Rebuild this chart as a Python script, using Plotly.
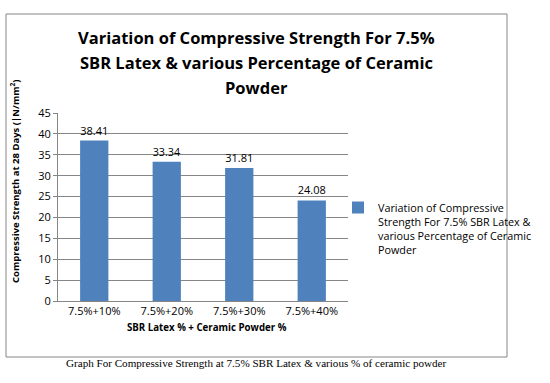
import plotly.graph_objects as go

categories = ["7.5%+10%", "7.5%+20%", "7.5%+30%", "7.5%+40%"]
strength = [38.41, 33.34, 31.81, 24.08]
series_name = "Variation of Compressive<br>Strength For 7.5% SBR Latex &<br>various Percentage of Ceramic<br>Powder"
y_ticks = [0, 5, 10, 15, 20, 25, 30, 35, 40, 45]

W, H = 550, 383
L, R, T, B = 58, 348, 113, 301  # plot area pixel edges

def px(x):
    return (x - L) / (R - L)

def py(y):
    return (B - y) / (B - T)

FONT = "Open Sans"
fig = go.Figure()
fig.add_trace(go.Bar(
    x=categories, y=strength, name=series_name,
    marker=dict(color="#4F81BD", line=dict(width=0)),
    width=0.39,
    text=[f"{v:.2f}" for v in strength], textposition="outside",
    textfont=dict(family=FONT, size=11, color="#000000"),
    cliponaxis=False, showlegend=True,
))

fig.update_layout(
    width=W, height=H,
    margin=dict(l=L, r=W - R, t=T, b=H - B, pad=0),
    paper_bgcolor="white", plot_bgcolor="white",
    font=dict(family=FONT, size=11, color="#000000"),
    bargap=0.61,
    xaxis=dict(showline=True, linecolor="#868686", linewidth=1, ticks="",
               tickfont=dict(size=11), showgrid=False, fixedrange=True),
    yaxis=dict(range=[0, 45], tickvals=y_ticks, showline=True, linecolor="#868686",
               linewidth=1, ticks="outside", ticklen=4, tickcolor="#868686",
               gridcolor="#868686", gridwidth=1, tickfont=dict(size=11),
               zeroline=False),
    legend=dict(x=px(338), y=py(194), xanchor="left", yanchor="top",
                valign="top", font=dict(size=10.8), bgcolor="rgba(0,0,0,0)",
                itemwidth=30, tracegroupgap=0),
    showlegend=True,
)

# outer chart border
fig.add_shape(type="rect", xref="paper", yref="paper",
              x0=px(6), x1=px(507), y0=py(357), y1=py(14),
              line=dict(color="#868686", width=1), layer="below")

title_lines = ["Variation of Compressive Strength For 7.5%",
               "SBR Latex & various Percentage of Ceramic",
               "Powder"]
for i, t in enumerate(title_lines):
    fig.add_annotation(text=f"<b>{t}</b>", xref="paper", yref="paper",
                       x=px(256), y=py(37 + 25 * i), showarrow=False,
                       xanchor="center", yanchor="middle",
                       font=dict(family=FONT, size=16.5, color="#000000"))

fig.add_annotation(text="<b>Compressive Strength at 28 Days (|N/mm<sup>2</sup>)</b>",
                   xref="paper", yref="paper", x=px(15), y=py(181),
                   textangle=-90, showarrow=False, xanchor="center", yanchor="middle",
                   font=dict(family=FONT, size=9.5))
fig.add_annotation(text="<b>SBR Latex % + Ceramic Powder %</b>",
                   xref="paper", yref="paper", x=px(207), y=py(327),
                   showarrow=False, xanchor="center", yanchor="middle",
                   font=dict(family=FONT, size=9.7))
fig.add_annotation(text="Graph For Compressive Strength at 7.5% SBR Latex & various % of ceramic powder",
                   xref="paper", yref="paper", x=px(256), y=py(363),
                   showarrow=False, xanchor="center", yanchor="middle",
                   font=dict(family="Liberation Serif", size=11.1, color="#000000"))

fig.write_html("out.html", config={"displayModeBar": False},
               post_script="document.body.style.margin='0';document.body.style.padding='0';")
